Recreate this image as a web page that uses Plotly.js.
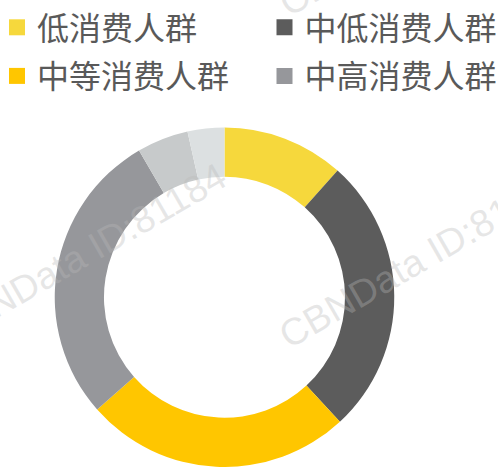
<!DOCTYPE html>
<html>
<head>
<meta charset="utf-8">
<script src="https://cdn.plot.ly/plotly-3.0.1.min.js"></script>
<style>
html,body{margin:0;padding:0;background:#fff;}
#chart{width:498px;height:467px;}
</style>
</head>
<body>
<div id="chart"></div>
<script>
// ---- data ----
const categories = ['低消费人群', '中低消费人群', '中等消费人群', '中高消费人群', '高消费人群', '其他'];
const values = [11.6, 26.5, 25.4, 28.1, 4.9, 3.5];
const sliceColors = ['#F6D83C', '#5C5C5C', '#FFC600', '#96979B', '#C7CACB', '#DCE0E1'];
const legendColumn1 = ['低消费人群', '中等消费人群'];
const legendColumn2 = ['中低消费人群', '中高消费人群'];
const watermarkText = 'CBNData ID:81184';

const W = 498, H = 467;

const pie = {
  type: 'pie',
  labels: categories,
  values: values,
  sort: false,
  direction: 'clockwise',
  rotation: 0,
  hole: 0.71,
  textinfo: 'none',
  hoverinfo: 'label+percent',
  marker: { colors: sliceColors, line: { width: 0 } },
  domain: { x: [0.1099, 0.7917], y: [0, 0.727] },
  showlegend: false
};

function legendTrace(name, legendId) {
  return {
    type: 'scatter',
    mode: 'markers',
    x: [null], y: [null],
    name: name,
    legend: legendId,
    legendgroup: name,
    marker: { symbol: 'square', size: 19, color: sliceColors[categories.indexOf(name)] },
    hoverinfo: 'skip',
    showlegend: true
  };
}
const legendTraces = legendColumn1.map(n => legendTrace(n, 'legend'))
  .concat(legendColumn2.map(n => legendTrace(n, 'legend2')));

function legendBox(xpx) {
  return {
    orientation: 'v',
    x: xpx / W, xanchor: 'left',
    y: 1, yanchor: 'top',
    font: { family: 'Noto Sans CJK SC, sans-serif', size: 32, color: '#595959' },
    bgcolor: 'rgba(0,0,0,0)',
    borderwidth: 0,
    traceorder: 'grouped',
    tracegroupgap: 4
  };
}

function wm(cx, cy) {
  return {
    text: watermarkText,
    xref: 'paper', yref: 'paper',
    x: cx / W, y: 1 - cy / H,
    xanchor: 'center', yanchor: 'middle',
    showarrow: false,
    textangle: -30,
    font: { family: 'Liberation Sans, Arial, sans-serif', size: 38, color: 'rgba(185,185,185,0.35)' }
  };
}

const layout = {
  width: W, height: H,
  margin: { l: 0, r: 0, t: 0, b: 0, autoexpand: false },
  paper_bgcolor: '#ffffff',
  plot_bgcolor: '#ffffff',
  xaxis: { visible: false },
  yaxis: { visible: false },
  showlegend: true,
  legend: legendBox(-3),
  legend2: legendBox(264.5),
  annotations: [wm(82.5, 254), wm(421.5, 258), wm(421.5, -74)]
};

Plotly.newPlot('chart', [pie].concat(legendTraces), layout, { displayModeBar: false, staticPlot: true });
</script>
</body>
</html>
